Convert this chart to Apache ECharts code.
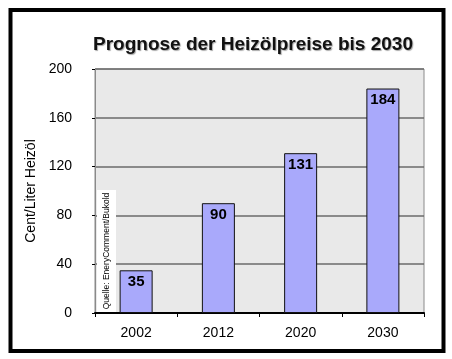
<!DOCTYPE html>
<html><head><meta charset="utf-8">
<script src="https://cdn.jsdelivr.net/npm/echarts@6/dist/echarts.min.js"></script>
<style>html,body{margin:0;padding:0;background:#fff}#c{width:452px;height:359px}</style>
</head><body><div id="c"></div>
<script>
const categories = ['2002', '2012', '2020', '2030'];
const prices = [35, 90, 131, 184];
const yTicks = [0, 40, 80, 120, 160, 200];
const titleText = 'Prognose der Heizölpreise bis 2030';
const yAxisName = 'Cent/Liter Heizöl';
const sourceText = 'Quelle: EneryComment/Bukold';

const chart = echarts.init(document.getElementById('c'), null, {renderer: 'canvas'});
const font = 'Liberation Sans, Arial, Helvetica, sans-serif';
chart.setOption({
  animation: false,
  backgroundColor: '#fff',
  textStyle: {fontFamily: font},
  title: {
    text: titleText, left: 88, top: 30,
    textStyle: {fontSize: 19, fontWeight: 'bold', color: '#111', fontFamily: font,
      textShadowColor: 'rgba(0,0,0,0.35)', textShadowOffsetX: 1, textShadowOffsetY: 1, textShadowBlur: 1}
  },
  grid: {left: 95, top: 69, right: 28, bottom: 46, show: true, backgroundColor: '#e9e9e9', borderColor: '#8a8a8a', borderWidth: 1},
  xAxis: {
    type: 'category', data: categories,
    axisLine: {lineStyle: {color: '#000', width: 2}},
    axisTick: {show: true, alignWithLabel: false, length: 4, lineStyle: {color: '#000'}},
    axisLabel: {fontSize: 14, color: '#000', margin: 13, fontFamily: font}
  },
  yAxis: {
    type: 'value', min: yTicks[0], max: yTicks[yTicks.length - 1], interval: 40,
    name: yAxisName, nameLocation: 'middle', nameGap: 47, nameRotate: 90,
    nameTextStyle: {fontSize: 14, color: '#000', fontFamily: font},
    axisLine: {show: true, lineStyle: {color: '#8a8a8a', width: 1}},
    axisTick: {show: true, length: 3, lineStyle: {color: '#000'}},
    axisLabel: {fontSize: 14, color: '#000', margin: 23, fontFamily: font},
    splitLine: {show: true, lineStyle: {color: '#6a6a6a', width: 1.5}}
  },
  series: [{
    type: 'bar', data: prices, barWidth: 33,
    itemStyle: {color: '#a9a9fb', borderColor: '#111', borderWidth: 1},
    label: {show: true, position: 'insideTop', distance: 4, fontSize: 15, fontWeight: 'bold', color: '#000', fontFamily: font}
  }],
  graphic: [
    {type: 'rect', shape: {x: 10.5, y: 10, width: 433, height: 341}, style: {fill: 'none', stroke: '#000', lineWidth: 4}, z: 10},
    {type: 'rect', shape: {x: 97, y: 190, width: 19, height: 122}, style: {fill: '#fff', stroke: null}, z: 5},
    {type: 'text', x: 107, y: 251, rotation: Math.PI / 2, style: {text: sourceText, fontSize: 8.5, fill: '#000', align: 'center', verticalAlign: 'middle', fontFamily: font}, z: 6}
  ]
});
</script></body></html>
